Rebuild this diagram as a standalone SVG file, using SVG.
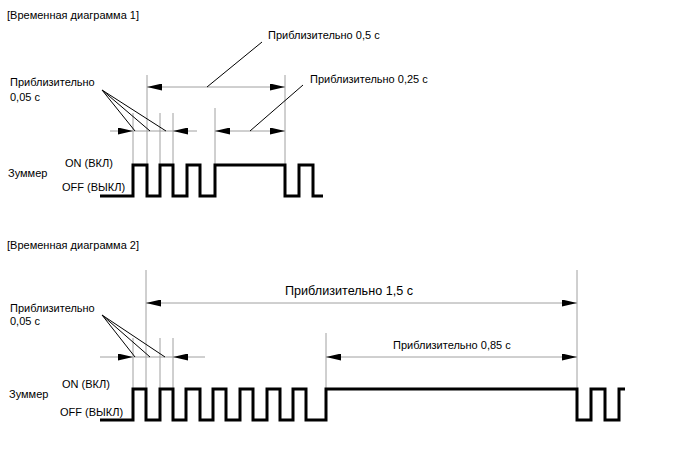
<svg xmlns="http://www.w3.org/2000/svg" width="688" height="463" viewBox="0 0 688 463">
<style>
text{font-family:"Liberation Sans",Arial,sans-serif;font-size:11px;fill:#000}
.g{stroke:#a0a0a0;stroke-width:1;fill:none}
.d{stroke:#a0a0a0;stroke-width:1;fill:none;marker-start:url(#ah);marker-end:url(#ah)}
.e{stroke:none;fill:none;marker-end:url(#ah)}
.l{stroke:#000;stroke-width:1;fill:none}
.w{stroke:#000;stroke-width:3;fill:none;stroke-linejoin:miter}
</style>
<defs>
<marker id="ah" viewBox="0 0 15 7" refX="15" refY="3.5" markerWidth="15" markerHeight="7" markerUnits="userSpaceOnUse" orient="auto-start-reverse">
<path d="M0,0 L15,3.5 L0,7 z" fill="#000"/>
</marker>
</defs>
<rect width="688" height="463" fill="#fff"/>

<g id="diagram1">
<text id="title1" x="7" y="19">[Временная диаграмма 1]</text>
<g id="labels1">
<text x="10" y="86">Приблизительно</text>
<text x="10" y="101">0,05 с</text>
<text x="8" y="177">Зуммер</text>
<text x="65" y="167">ON (ВКЛ)</text>
<text x="62" y="191">OFF (ВЫКЛ)</text>
<text x="268" y="39">Приблизительно 0,5 с</text>
<text x="310" y="83">Приблизительно 0,25 с</text>
</g>
<g id="guides1">
<path class="g" d="M133,113V165 M147,75V165 M160,113V165 M173,113V165 M215,108V165 M285,75V165"/>
</g>
<g id="connectors1">
<path class="d" d="M147,87H285"/>
<path class="d" d="M215,131H285"/>
<path class="g" d="M110,131H197"/>
<path class="e" d="M118,131H133"/>
<path class="e" d="M188,131H173"/>
<path class="l" d="M207,87L262,42 M250,131L303,85 M102,90L135,131 M102,90L150,131 M102,90L166,131"/>
</g>
<g id="wave1">
<path class="w" d="M100,196H133V165H147V196H160V165H173V196H187V165H200V196H215V165H285V196H299V165H313V196H323"/>
</g>
</g>

<g id="diagram2">
<text id="title2" x="7" y="249">[Временная диаграмма 2]</text>
<g id="labels2">
<text x="10" y="312">Приблизительно</text>
<text x="10" y="325">0,05 с</text>
<text x="9" y="398">Зуммер</text>
<text x="62" y="388">ON (ВКЛ)</text>
<text x="60" y="416">OFF (ВЫКЛ)</text>
<text x="285" y="295" style="font-size:12px" textLength="128" lengthAdjust="spacingAndGlyphs">Приблизительно 1,5 с</text>
<text x="393" y="349">Приблизительно 0,85 с</text>
</g>
<g id="guides2">
<path class="g" d="M133,338V389 M146,270V389 M160,338V389 M173,338V389 M326,333V389 M577,270V389"/>
</g>
<g id="connectors2">
<path class="d" d="M146,303H577"/>
<path class="d" d="M326,357H577"/>
<path class="g" d="M100,357H205"/>
<path class="e" d="M118,357H133"/>
<path class="e" d="M188,357H173"/>
<path class="l" d="M102,315L135,357 M102,315L150,357 M102,315L165,357"/>
</g>
<g id="wave2">
<path class="w" d="M100,420H133V389H146V420H160V389H173V420H186V389H200V420H213V389H226V420H240V389H253V420H267V389H280V420H293V389H306V420H326V389H577V420H591V389H605V420H619V389H625"/>
</g>
</g>
</svg>
